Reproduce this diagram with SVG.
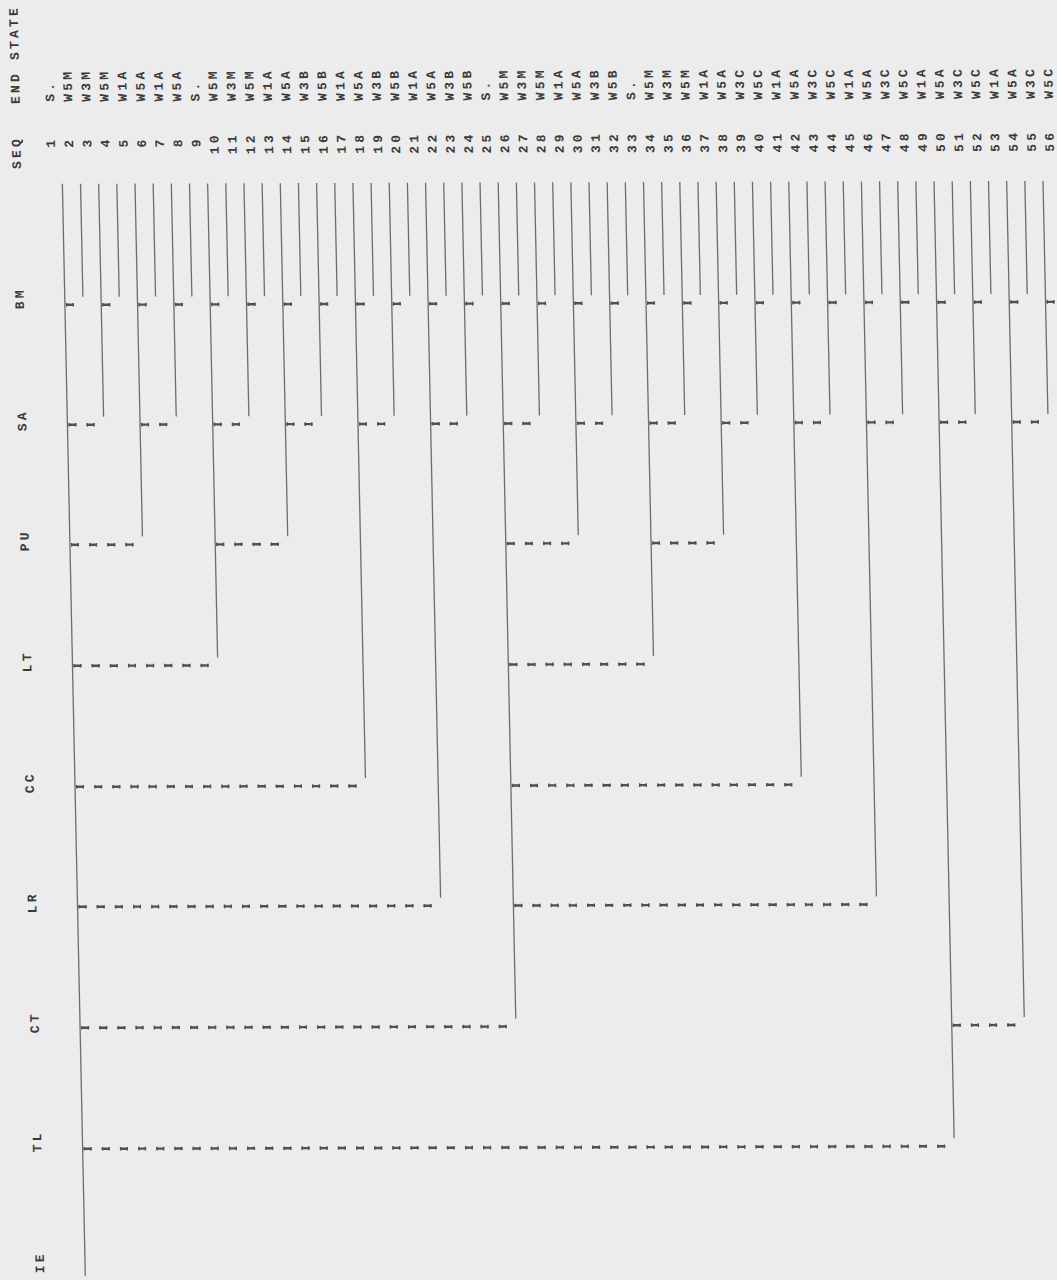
<svg xmlns="http://www.w3.org/2000/svg" xmlns:xlink="http://www.w3.org/1999/xlink" width="1057" height="1280" viewBox="0 0 1057 1280">
<style>
.t{font-family:"Liberation Mono","DejaVu Sans Mono",monospace;font-size:13px;font-weight:bold;letter-spacing:3.2px;fill:#3a3a3a}
.ln{fill:none;stroke:#6c6c6c;stroke-width:1.3}
.stem{fill:none;stroke:#505050;stroke-width:2.4;stroke-dasharray:8 10.16}
.serif{fill:none;stroke:#505050;stroke-width:3.6;stroke-dasharray:1.4 5.2 1.4 10.16}
</style>
<defs>
<g id="dashes">
<path d="M59.5 305H72.66"/><path d="M95.82 305H108.98"/><path d="M132.14 305H145.3"/><path d="M168.46 305H181.62"/>
<path d="M204.78 305H217.94"/><path d="M241.1 305H254.26"/><path d="M277.42 305H290.58"/><path d="M313.74 305H326.9"/>
<path d="M350.06 305H363.22"/><path d="M386.38 305H399.54"/><path d="M422.7 305H435.86"/><path d="M459.02 305H472.18"/>
<path d="M495.34 305H508.5"/><path d="M531.66 305H544.82"/><path d="M567.98 305H581.14"/><path d="M604.3 305H617.46"/>
<path d="M640.62 305H653.78"/><path d="M676.94 305H690.1"/><path d="M713.26 305H726.42"/><path d="M749.58 305H762.74"/>
<path d="M785.9 305H799.06"/><path d="M822.22 305H835.38"/><path d="M858.54 305H871.7"/><path d="M894.86 305H908.02"/>
<path d="M931.18 305H944.34"/><path d="M967.5 305H980.66"/><path d="M1003.82 305H1016.98"/><path d="M1040.14 305H1053.3"/>
<path d="M59.5 425H90.82"/><path d="M132.14 425H163.46"/><path d="M204.78 425H236.1"/><path d="M277.42 425H308.74"/>
<path d="M350.06 425H381.38"/><path d="M422.7 425H454.02"/><path d="M495.34 425H526.66"/><path d="M567.98 425H599.3"/>
<path d="M640.62 425H671.94"/><path d="M713.26 425H744.58"/><path d="M785.9 425H817.22"/><path d="M858.54 425H889.86"/>
<path d="M931.18 425H962.5"/><path d="M1003.82 425H1035.14"/>
<path d="M59.5 545H127.14"/><path d="M204.78 545H272.42"/><path d="M495.34 545H562.98"/><path d="M640.62 545H708.26"/>
<path d="M59.5 666H199.78"/><path d="M495.34 666H635.62"/>
<path d="M59.5 787H345.06"/><path d="M495.34 787H780.9"/>
<path d="M59.5 907H417.7"/><path d="M495.34 907H853.54"/>
<path d="M59.5 1028H490.34"/><path d="M931.18 1028H998.82"/>
<path d="M59.5 1149H926.18"/>
</g>
</defs>
<rect width="1057" height="1280" fill="#ececec"/>
<g transform="matrix(1 -0.003 0.021 1 0 0)">
<g id="connectors">
<path class="ln" d="M58.5 184V1276
M76.66 184V297 M94.82 184V417 M112.98 184V297 M131.14 184V537 M149.3 184V297 M167.46 184V417 M185.62 184V297
M203.78 184V658 M221.94 184V297 M240.1 184V417 M258.26 184V297 M276.42 184V537 M294.58 184V297 M312.74 184V417 M330.9 184V297
M349.06 184V779 M367.22 184V297 M385.38 184V417 M403.54 184V297 M421.7 184V899 M439.86 184V297 M458.02 184V417 M476.18 184V297
M494.34 184V1020 M512.5 184V297 M530.66 184V417 M548.82 184V297 M566.98 184V537 M585.14 184V297 M603.3 184V417 M621.46 184V297
M639.62 184V658 M657.78 184V297 M675.94 184V417 M694.1 184V297 M712.26 184V537 M730.42 184V297 M748.58 184V417 M766.74 184V297
M784.9 184V779 M803.06 184V297 M821.22 184V417 M839.38 184V297 M857.54 184V899 M875.7 184V297 M893.86 184V417 M912.02 184V297
M930.18 184V1141 M948.34 184V297 M966.5 184V417 M984.66 184V297 M1002.82 184V1020 M1020.98 184V297 M1039.14 184V417 M1057.3 184V297"/>
<use xlink:href="#dashes" href="#dashes" class="stem"/>
<use xlink:href="#dashes" href="#dashes" class="serif"/>
</g>
<g transform="rotate(-90)">
<g id="header"><text class="t" x="-104" y="17.5">END STATE</text><text class="t" x="-169" y="17.5">SEQ</text></g>
<g id="headings">
<text id="h-BM" class="t" x="-309.4" y="17.4">BM</text>
<text id="h-SA" class="t" x="-431.4" y="17.4">SA</text>
<text id="h-PU" class="t" x="-551.4" y="17.4">PU</text>
<text id="h-LT" class="t" x="-672.4" y="17.4">LT</text>
<text id="h-CC" class="t" x="-793.4" y="17.4">CC</text>
<text id="h-LR" class="t" x="-913.4" y="17.4">LR</text>
<text id="h-CT" class="t" x="-1033.4" y="17.4">CT</text>
<text id="h-TL" class="t" x="-1152.4" y="17.4">TL</text>
<text id="h-IE" class="t" x="-1273.4" y="17.4">IE</text>
</g>
<g id="seq1"><text class="t" x="-147.9" y="52">1</text><text class="t" x="-102" y="52">S.</text></g>
<g id="seq2"><text class="t" x="-147.9" y="70.16">2</text><text class="t" x="-102" y="70.16">W5M</text></g>
<g id="seq3"><text class="t" x="-147.9" y="88.32">3</text><text class="t" x="-102" y="88.32">W3M</text></g>
<g id="seq4"><text class="t" x="-147.9" y="106.48">4</text><text class="t" x="-102" y="106.48">W5M</text></g>
<g id="seq5"><text class="t" x="-147.9" y="124.64">5</text><text class="t" x="-102" y="124.64">W1A</text></g>
<g id="seq6"><text class="t" x="-147.9" y="142.8">6</text><text class="t" x="-102" y="142.8">W5A</text></g>
<g id="seq7"><text class="t" x="-147.9" y="160.96">7</text><text class="t" x="-102" y="160.96">W1A</text></g>
<g id="seq8"><text class="t" x="-147.9" y="179.12">8</text><text class="t" x="-102" y="179.12">W5A</text></g>
<g id="seq9"><text class="t" x="-147.9" y="197.28">9</text><text class="t" x="-102" y="197.28">S.</text></g>
<g id="seq10"><text class="t" x="-154.9" y="215.44">10</text><text class="t" x="-102" y="215.44">W5M</text></g>
<g id="seq11"><text class="t" x="-154.9" y="233.6">11</text><text class="t" x="-102" y="233.6">W3M</text></g>
<g id="seq12"><text class="t" x="-154.9" y="251.76">12</text><text class="t" x="-102" y="251.76">W5M</text></g>
<g id="seq13"><text class="t" x="-154.9" y="269.92">13</text><text class="t" x="-102" y="269.92">W1A</text></g>
<g id="seq14"><text class="t" x="-154.9" y="288.08">14</text><text class="t" x="-102" y="288.08">W5A</text></g>
<g id="seq15"><text class="t" x="-154.9" y="306.24">15</text><text class="t" x="-102" y="306.24">W3B</text></g>
<g id="seq16"><text class="t" x="-154.9" y="324.4">16</text><text class="t" x="-102" y="324.4">W5B</text></g>
<g id="seq17"><text class="t" x="-154.9" y="342.56">17</text><text class="t" x="-102" y="342.56">W1A</text></g>
<g id="seq18"><text class="t" x="-154.9" y="360.72">18</text><text class="t" x="-102" y="360.72">W5A</text></g>
<g id="seq19"><text class="t" x="-154.9" y="378.88">19</text><text class="t" x="-102" y="378.88">W3B</text></g>
<g id="seq20"><text class="t" x="-154.9" y="397.04">20</text><text class="t" x="-102" y="397.04">W5B</text></g>
<g id="seq21"><text class="t" x="-154.9" y="415.2">21</text><text class="t" x="-102" y="415.2">W1A</text></g>
<g id="seq22"><text class="t" x="-154.9" y="433.36">22</text><text class="t" x="-102" y="433.36">W5A</text></g>
<g id="seq23"><text class="t" x="-154.9" y="451.52">23</text><text class="t" x="-102" y="451.52">W3B</text></g>
<g id="seq24"><text class="t" x="-154.9" y="469.68">24</text><text class="t" x="-102" y="469.68">W5B</text></g>
<g id="seq25"><text class="t" x="-154.9" y="487.84">25</text><text class="t" x="-102" y="487.84">S.</text></g>
<g id="seq26"><text class="t" x="-154.9" y="506">26</text><text class="t" x="-102" y="506">W5M</text></g>
<g id="seq27"><text class="t" x="-154.9" y="524.16">27</text><text class="t" x="-102" y="524.16">W3M</text></g>
<g id="seq28"><text class="t" x="-154.9" y="542.32">28</text><text class="t" x="-102" y="542.32">W5M</text></g>
<g id="seq29"><text class="t" x="-154.9" y="560.48">29</text><text class="t" x="-102" y="560.48">W1A</text></g>
<g id="seq30"><text class="t" x="-154.9" y="578.64">30</text><text class="t" x="-102" y="578.64">W5A</text></g>
<g id="seq31"><text class="t" x="-154.9" y="596.8">31</text><text class="t" x="-102" y="596.8">W3B</text></g>
<g id="seq32"><text class="t" x="-154.9" y="614.96">32</text><text class="t" x="-102" y="614.96">W5B</text></g>
<g id="seq33"><text class="t" x="-154.9" y="633.12">33</text><text class="t" x="-102" y="633.12">S.</text></g>
<g id="seq34"><text class="t" x="-154.9" y="651.28">34</text><text class="t" x="-102" y="651.28">W5M</text></g>
<g id="seq35"><text class="t" x="-154.9" y="669.44">35</text><text class="t" x="-102" y="669.44">W3M</text></g>
<g id="seq36"><text class="t" x="-154.9" y="687.6">36</text><text class="t" x="-102" y="687.6">W5M</text></g>
<g id="seq37"><text class="t" x="-154.9" y="705.76">37</text><text class="t" x="-102" y="705.76">W1A</text></g>
<g id="seq38"><text class="t" x="-154.9" y="723.92">38</text><text class="t" x="-102" y="723.92">W5A</text></g>
<g id="seq39"><text class="t" x="-154.9" y="742.08">39</text><text class="t" x="-102" y="742.08">W3C</text></g>
<g id="seq40"><text class="t" x="-154.9" y="760.24">40</text><text class="t" x="-102" y="760.24">W5C</text></g>
<g id="seq41"><text class="t" x="-154.9" y="778.4">41</text><text class="t" x="-102" y="778.4">W1A</text></g>
<g id="seq42"><text class="t" x="-154.9" y="796.56">42</text><text class="t" x="-102" y="796.56">W5A</text></g>
<g id="seq43"><text class="t" x="-154.9" y="814.72">43</text><text class="t" x="-102" y="814.72">W3C</text></g>
<g id="seq44"><text class="t" x="-154.9" y="832.88">44</text><text class="t" x="-102" y="832.88">W5C</text></g>
<g id="seq45"><text class="t" x="-154.9" y="851.04">45</text><text class="t" x="-102" y="851.04">W1A</text></g>
<g id="seq46"><text class="t" x="-154.9" y="869.2">46</text><text class="t" x="-102" y="869.2">W5A</text></g>
<g id="seq47"><text class="t" x="-154.9" y="887.36">47</text><text class="t" x="-102" y="887.36">W3C</text></g>
<g id="seq48"><text class="t" x="-154.9" y="905.52">48</text><text class="t" x="-102" y="905.52">W5C</text></g>
<g id="seq49"><text class="t" x="-154.9" y="923.68">49</text><text class="t" x="-102" y="923.68">W1A</text></g>
<g id="seq50"><text class="t" x="-154.9" y="941.84">50</text><text class="t" x="-102" y="941.84">W5A</text></g>
<g id="seq51"><text class="t" x="-154.9" y="960">51</text><text class="t" x="-102" y="960">W3C</text></g>
<g id="seq52"><text class="t" x="-154.9" y="978.16">52</text><text class="t" x="-102" y="978.16">W5C</text></g>
<g id="seq53"><text class="t" x="-154.9" y="996.32">53</text><text class="t" x="-102" y="996.32">W1A</text></g>
<g id="seq54"><text class="t" x="-154.9" y="1014.48">54</text><text class="t" x="-102" y="1014.48">W5A</text></g>
<g id="seq55"><text class="t" x="-154.9" y="1032.64">55</text><text class="t" x="-102" y="1032.64">W3C</text></g>
<g id="seq56"><text class="t" x="-154.9" y="1050.8">56</text><text class="t" x="-102" y="1050.8">W5C</text></g>
</g>
</g>
</svg>
